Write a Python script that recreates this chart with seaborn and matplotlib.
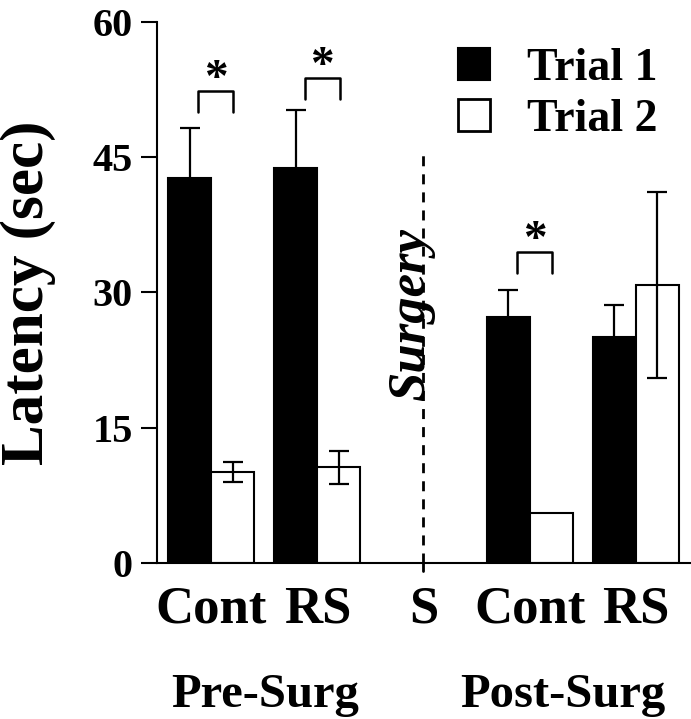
import numpy as np
import pandas as pd
import matplotlib
matplotlib.use("Agg")
import matplotlib.pyplot as plt
import matplotlib.transforms as mtransforms
from matplotlib.patches import Patch
import seaborn as sns

# ---- data ----
groups = ["Pre Cont", "Pre RS", "S", "Post Cont", "Post RS"]
tick_labels = ["Cont", "RS", "S", "Cont", "RS"]
trials = ["Trial 1", "Trial 2"]
trial1_mean = [42.7, 43.8, np.nan, 27.3, 25.1]
trial1_sem = [5.5, 6.4, np.nan, 3.0, 3.5]
trial2_mean = [10.1, 10.6, np.nan, 5.5, 30.8]
trial2_sem = [1.1, 1.8, np.nan, np.nan, 10.3]
y_ticks = [0, 15, 30, 45, 60]
phase_labels = ["Pre-Surg", "Post-Surg"]
sig_groups = [0, 1, 3]
sig_levels = [52.3, 53.8, 34.5]

sns.set_theme(style="white")
plt.rcParams["font.family"] = ["Liberation Serif", "DejaVu Serif"]
plt.rcParams["font.weight"] = "bold"
for key in ["text.color", "axes.labelcolor", "xtick.color", "ytick.color", "axes.edgecolor"]:
    plt.rcParams[key] = "black"

df = pd.DataFrame({
    "group": groups * 2,
    "trial": [trials[0]] * len(groups) + [trials[1]] * len(groups),
    "latency": trial1_mean + trial2_mean,
})

fig = plt.figure(figsize=(6.91, 7.19), dpi=100)
ax = fig.add_axes([157 / 691, 1 - 563 / 719, (691 - 157) / 691, (563 - 22) / 719])

width = 0.81
sns.barplot(data=df, x="group", y="latency", hue="trial", order=groups,
            hue_order=trials, palette=["black", "white"], edgecolor="black",
            linewidth=1.5, width=width, errorbar=None, ax=ax, legend=False)

# error bars
for k, (means, sems) in enumerate([(trial1_mean, trial1_sem), (trial2_mean, trial2_sem)]):
    off = (-1 if k == 0 else 1) * width / 4
    for i, (m, s) in enumerate(zip(means, sems)):
        if np.isnan(m) or np.isnan(s):
            continue
        ax.errorbar(i + off, m, yerr=s, color="black", capsize=7.5,
                    elinewidth=1.6, capthick=1.6, zorder=4)

# significance brackets
for g, lvl in zip(sig_groups, sig_levels):
    x0, x1 = g - 0.12, g + 0.21
    ax.plot([x0, x0, x1, x1], [lvl - 2.3, lvl, lvl, lvl - 2.3], color="black",
            lw=1.8, zorder=4)
    ax.text((x0 + x1) / 2, lvl, "*", ha="center", va="baseline",
            fontsize=34, fontweight="bold")

# surgery divider
ax.plot([2, 2], [0, 45.8], color="black", lw=2, ls=(0, (3.6, 2.9)), zorder=3)
ax.plot([2, 2], [0, -0.9], color="black", lw=2, clip_on=False)
ax.text(1.88, 27.6, "Surgery", rotation=90, ha="center", va="center",
        fontsize=38, fontweight="bold", fontstyle="italic")

ax.set_ylim(0, 60)
ax.set_xlim(-0.51, 4.52)
ax.set_yticks(y_ticks)
ax.set_yticklabels([str(t) for t in y_ticks], fontsize=29, fontweight="bold")
ax.set_xticks(range(len(groups)))
ax.set_xticklabels(tick_labels, fontsize=38, fontweight="bold")
ax.tick_params(axis="y", direction="out", length=11.5, width=1.5, pad=6, left=True)
ax.tick_params(axis="x", length=0, pad=16)
ax.set_xlabel("")
ax.set_ylabel("Latency (sec)", fontsize=44, fontweight="bold", labelpad=26)
for side in ["top", "right"]:
    ax.spines[side].set_visible(False)
for side in ["left", "bottom"]:
    ax.spines[side].set_linewidth(1.5)
    ax.spines[side].set_color("black")

# phase labels
trans = mtransforms.blended_transform_factory(ax.transData, fig.transFigure)
ax.text(0.51, 1 - 707 / 719, phase_labels[0], transform=trans, ha="center",
        va="baseline", fontsize=35, fontweight="bold")
ax.text(3.31, 1 - 707 / 719, phase_labels[1], transform=trans, ha="center",
        va="baseline", fontsize=35, fontweight="bold")

# legend
handles = [Patch(facecolor="black", edgecolor="black", lw=1.5),
           Patch(facecolor="white", edgecolor="black", lw=2)]
leg = ax.legend(handles, trials, loc="upper left",
                bbox_to_anchor=((458 - 157) / (691 - 157), (563 - 48) / (563 - 22)),
                frameon=False, handlelength=0.7, handleheight=0.7,
                handletextpad=0.8, labelspacing=0.2, borderpad=0, borderaxespad=0,
                prop={"weight": "bold", "size": 33})

fig.savefig("out.png", dpi=100)
